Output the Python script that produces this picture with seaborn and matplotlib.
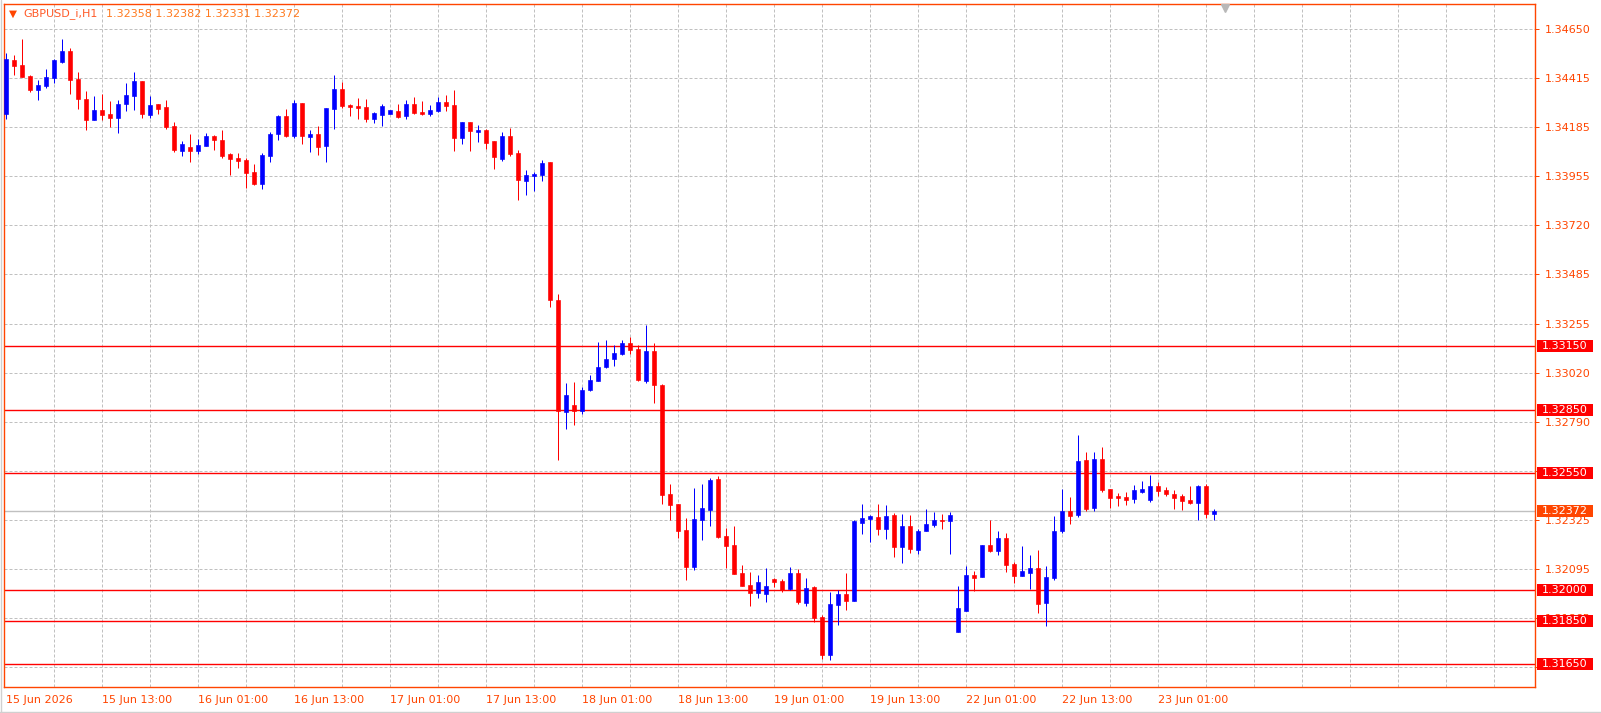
import matplotlib
matplotlib.use("Agg")
import matplotlib.pyplot as plt
import matplotlib.transforms as mtransforms
from matplotlib.patches import Rectangle
from matplotlib.lines import Line2D
import numpy as np
import pandas as pd
import seaborn as sns

# GBPUSD_i H1 bars, 15 Jun 2026 00:00 .. 23 Jun 2026 08:00
opens = [
    1.34249, 1.34504, 1.34481, 1.34429, 1.34364, 1.34381, 1.34419, 1.34495, 1.34547, 1.34414,
    1.34320, 1.34220, 1.34268, 1.34249, 1.34230, 1.34296, 1.34334, 1.34405, 1.34244, 1.34296,
    1.34282, 1.34192, 1.34074, 1.34093, 1.34074, 1.34097, 1.34145, 1.34126, 1.34060, 1.34041,
    1.34031, 1.33974, 1.33918, 1.34050, 1.34154, 1.34239, 1.34145, 1.34301, 1.34140, 1.34154,
    1.34097, 1.34272, 1.34367, 1.34291, 1.34287, 1.34282, 1.34225, 1.34244, 1.34249, 1.34263,
    1.34239, 1.34296, 1.34258, 1.34249, 1.34263, 1.34306, 1.34291, 1.34135, 1.34211, 1.34164,
    1.34173, 1.34121, 1.34036, 1.34145, 1.34064, 1.33932, 1.33956, 1.33960, 1.34022, 1.33369,
    1.32841, 1.32872, 1.32845, 1.32943, 1.32987, 1.33052, 1.33090, 1.33114, 1.33166, 1.33137,
    1.32986, 1.33128, 1.32967, 1.32451, 1.32404, 1.32281, 1.32106, 1.32328, 1.32376, 1.32522,
    1.32253, 1.32210, 1.32078, 1.32021, 1.31983, 1.31978, 1.32049, 1.32040, 1.32002, 1.32078,
    1.31936, 1.32011, 1.31870, 1.31690, 1.31926, 1.31978, 1.31945, 1.32314, 1.32333, 1.32343,
    1.32286, 1.32352, 1.32201, 1.32300, 1.32186, 1.32276, 1.32305, 1.32328, 1.32324, 1.31800,
    1.31898, 1.32068, 1.32059, 1.32210, 1.32182, 1.32243, 1.32120, 1.32063, 1.32078, 1.32101,
    1.31936, 1.32054, 1.32276, 1.32371, 1.32352, 1.32612, 1.32385, 1.32617, 1.32475, 1.32442,
    1.32437, 1.32428, 1.32461, 1.32423, 1.32490, 1.32470, 1.32451, 1.32442, 1.32423, 1.32409,
    1.32490, 1.32358,
]
highs = [
    1.34536, 1.34528, 1.34604, 1.34433, 1.34410, 1.34462, 1.34510, 1.34604, 1.34560, 1.34447,
    1.34358, 1.34334, 1.34343, 1.34310, 1.34315, 1.34395, 1.34447, 1.34405, 1.34334, 1.34296,
    1.34315, 1.34211, 1.34121, 1.34154, 1.34131, 1.34159, 1.34149, 1.34173, 1.34064, 1.34064,
    1.34041, 1.34012, 1.34064, 1.34164, 1.34244, 1.34272, 1.34315, 1.34301, 1.34173, 1.34192,
    1.34277, 1.34433, 1.34400, 1.34296, 1.34325, 1.34320, 1.34258, 1.34296, 1.34268, 1.34296,
    1.34315, 1.34329, 1.34310, 1.34291, 1.34329, 1.34339, 1.34362, 1.34211, 1.34211, 1.34197,
    1.34178, 1.34121, 1.34164, 1.34183, 1.34079, 1.33984, 1.33974, 1.34031, 1.34022, 1.33397,
    1.32976, 1.32981, 1.32958, 1.33014, 1.33170, 1.33180, 1.33156, 1.33180, 1.33194, 1.33156,
    1.33251, 1.33166, 1.32972, 1.32499, 1.32404, 1.32338, 1.32480, 1.32499, 1.32527, 1.32537,
    1.32291, 1.32300, 1.32116, 1.32082, 1.32068, 1.32101, 1.32054, 1.32049, 1.32106, 1.32097,
    1.32054, 1.32016, 1.31879, 1.31988, 1.31997, 1.32078, 1.32328, 1.32404, 1.32352, 1.32404,
    1.32399, 1.32362, 1.32357, 1.32352, 1.32286, 1.32381, 1.32366, 1.32357, 1.32366, 1.32016,
    1.32111, 1.32087, 1.32210, 1.32328, 1.32276, 1.32267, 1.32130, 1.32205, 1.32163, 1.32186,
    1.32111, 1.32347, 1.32475, 1.32437, 1.32730, 1.32650, 1.32650, 1.32674, 1.32475, 1.32456,
    1.32461, 1.32494, 1.32513, 1.32541, 1.32509, 1.32485, 1.32470, 1.32451, 1.32490, 1.32494,
    1.32499, 1.32382,
]
lows = [
    1.34224, 1.34433, 1.34422, 1.34353, 1.34315, 1.34372, 1.34395, 1.34489, 1.34343, 1.34272,
    1.34173, 1.34220, 1.34220, 1.34187, 1.34159, 1.34263, 1.34268, 1.34230, 1.34230, 1.34249,
    1.34178, 1.34069, 1.34050, 1.34022, 1.34060, 1.34097, 1.34079, 1.34041, 1.33960, 1.33993,
    1.33899, 1.33913, 1.33894, 1.34022, 1.34126, 1.34140, 1.34135, 1.34107, 1.34069, 1.34055,
    1.34022, 1.34178, 1.34277, 1.34239, 1.34225, 1.34211, 1.34206, 1.34192, 1.34249, 1.34230,
    1.34225, 1.34249, 1.34244, 1.34239, 1.34258, 1.34263, 1.34074, 1.34107, 1.34074, 1.34116,
    1.34083, 1.33989, 1.34027, 1.34050, 1.33842, 1.33866, 1.33885, 1.33932, 1.33337, 1.32612,
    1.32760, 1.32779, 1.32831, 1.32939, 1.32987, 1.33047, 1.33057, 1.33109, 1.33114, 1.32986,
    1.32976, 1.32882, 1.32404, 1.32328, 1.32243, 1.32045, 1.32092, 1.32234, 1.32300, 1.32243,
    1.32101, 1.32073, 1.32016, 1.31922, 1.31960, 1.31941, 1.32011, 1.31988, 1.31997, 1.31931,
    1.31922, 1.31846, 1.31671, 1.31666, 1.31832, 1.31903, 1.31945, 1.32262, 1.32224, 1.32257,
    1.32238, 1.32153, 1.32125, 1.32172, 1.32168, 1.32276, 1.32295, 1.32286, 1.32168, 1.31800,
    1.31898, 1.31993, 1.32059, 1.32178, 1.32163, 1.32082, 1.32030, 1.32063, 1.32002, 1.31889,
    1.31827, 1.32045, 1.32267, 1.32310, 1.32343, 1.32371, 1.32371, 1.32461, 1.32385, 1.32395,
    1.32399, 1.32409, 1.32456, 1.32413, 1.32442, 1.32442, 1.32381, 1.32376, 1.32404, 1.32328,
    1.32338, 1.32331,
]
closes = [
    1.34509, 1.34477, 1.34425, 1.34362, 1.34386, 1.34424, 1.34504, 1.34547, 1.34410, 1.34320,
    1.34220, 1.34268, 1.34244, 1.34230, 1.34296, 1.34339, 1.34405, 1.34249, 1.34291, 1.34272,
    1.34187, 1.34079, 1.34107, 1.34074, 1.34102, 1.34145, 1.34126, 1.34050, 1.34036, 1.34027,
    1.33970, 1.33918, 1.34055, 1.34154, 1.34239, 1.34145, 1.34301, 1.34145, 1.34154, 1.34093,
    1.34277, 1.34367, 1.34287, 1.34282, 1.34277, 1.34225, 1.34253, 1.34287, 1.34268, 1.34235,
    1.34296, 1.34253, 1.34249, 1.34268, 1.34306, 1.34287, 1.34135, 1.34211, 1.34168, 1.34173,
    1.34112, 1.34045, 1.34145, 1.34060, 1.33937, 1.33960, 1.33965, 1.34017, 1.33369, 1.32845,
    1.32920, 1.32845, 1.32943, 1.32991, 1.33052, 1.33090, 1.33118, 1.33166, 1.33133, 1.32991,
    1.33128, 1.32967, 1.32447, 1.32399, 1.32276, 1.32106, 1.32333, 1.32385, 1.32518, 1.32248,
    1.32205, 1.32073, 1.32016, 1.31983, 1.32035, 1.32016, 1.32035, 1.31997, 1.32078, 1.31941,
    1.32007, 1.31865, 1.31690, 1.31931, 1.31978, 1.31945, 1.32324, 1.32338, 1.32347, 1.32286,
    1.32347, 1.32201, 1.32300, 1.32191, 1.32276, 1.32310, 1.32328, 1.32325, 1.32352, 1.31912,
    1.32068, 1.32054, 1.32210, 1.32182, 1.32243, 1.32116, 1.32063, 1.32087, 1.32101, 1.31931,
    1.32059, 1.32276, 1.32371, 1.32347, 1.32607, 1.32381, 1.32617, 1.32470, 1.32433, 1.32433,
    1.32423, 1.32470, 1.32475, 1.32490, 1.32466, 1.32451, 1.32433, 1.32418, 1.32409, 1.32490,
    1.32357, 1.32372,
]

# time axis labels (one every 12 bars)
time_label_bars = [0, 12, 24, 36, 48, 60, 72, 84, 96, 108, 120, 132, 144]
time_labels = ["15 Jun 2026", "15 Jun 13:00", "16 Jun 01:00", "16 Jun 13:00",
               "17 Jun 01:00", "17 Jun 13:00", "18 Jun 01:00", "18 Jun 13:00",
               "19 Jun 01:00", "19 Jun 13:00", "22 Jun 01:00", "22 Jun 13:00",
               "23 Jun 01:00"]

# price scale (labels hidden under the level boxes are left blank)
price_ticks = [1.34650, 1.34418, 1.34186, 1.33954, 1.33722, 1.33490, 1.33258,
               1.33026, 1.32794, 1.32562, 1.32330, 1.32098, 1.31866, 1.31634]
price_tick_labels = ["1.34650", "1.34415", "1.34185", "1.33955", "1.33720", "1.33485",
                     "1.33255", "1.33020", "1.32790", "", "1.32325", "1.32095",
                     "1.31865", ""]

# horizontal levels drawn on the chart + current bid
levels = [1.33150, 1.32850, 1.32550, 1.32000, 1.31850, 1.31650]
bid = 1.32372
symbol = "GBPUSD_i,H1"

FG = "#ff4500"
GRID = "#c0c0c0"
PX = 0.72  # one pixel in points at 100 dpi

sns.set_theme(style="white")
plt.rcParams["font.family"] = ["DejaVu Sans"]

df = pd.DataFrame({"open": opens, "high": highs, "low": lows, "close": closes})
df["bar"] = np.arange(len(df))
df["up"] = df["close"] > df["open"]
df["color"] = np.where(df["up"], "#0000ff", "#ff0000")
df["body_lo"] = df[["open", "close"]].min(axis=1)
df["body_h"] = (df["close"] - df["open"]).abs()

W, H = 1601, 713
fig = plt.figure(figsize=(W / 100, H / 100), dpi=100)
fig.patch.set_facecolor("white")
left, right, top, bottom = 4, 1535, 4, 687
ax = fig.add_axes([left / W, (H - bottom) / H, (right - left) / W, (bottom - top) / H])
ax.set_facecolor("white")

ax.set_xlim(-0.25, 191.1)
ax.set_ylim(1.31539, 1.34769)

# grid
ax.set_yticks(price_ticks)
ax.set_yticklabels(price_tick_labels)
ax.grid(axis="y", color=GRID, lw=PX, ls=(0, (3, 2)), zorder=0)
ax.vlines(np.arange(6, 192, 6), 1.31539, 1.34769, colors=GRID, lw=PX,
          linestyles=(0, (3, 2)), zorder=0)

# level lines and bid line
for lv in levels:
    ax.axhline(lv, color="#ff0000", lw=1.0, zorder=1)
ax.axhline(bid, color=GRID, lw=1.0, zorder=1)

# candles
ax.vlines(df["bar"], df["low"], df["high"], colors=df["color"], lw=PX, zorder=3)
ax.bar(df["bar"], df["body_h"], bottom=df["body_lo"], width=0.56, color=df["color"],
       edgecolor=df["color"], linewidth=0.45, zorder=4)

# axes styling
for sp in ax.spines.values():
    sp.set_color(FG)
    sp.set_linewidth(1.0)
ax.yaxis.tick_right()
ax.tick_params(axis="y", direction="out", length=3, width=PX, color=FG,
               labelcolor=FG, labelsize=8, pad=4)
ax.set_xticks(time_label_bars)
ax.set_xticklabels(time_labels, ha="left")
ax.tick_params(axis="x", direction="out", length=4, width=PX, color=FG,
               labelcolor=FG, labelsize=8, pad=2)
ax.set_xlabel("")
ax.set_ylabel("")

# price labels for levels (boxes on the price scale)
trans = mtransforms.blended_transform_factory(ax.transAxes, ax.transData)
box_w = 56 / (right - left)
box_h = 12 * (1.34769 - 1.31539) / (bottom - top)
for lv, fc in [(v, "#ff0000") for v in levels] + [(bid, FG)]:
    ax.add_patch(Rectangle((1.001, lv - box_h / 2), box_w, box_h, transform=trans,
                           facecolor=fc, edgecolor="none", clip_on=False, zorder=10))
    ax.text(1.001 + box_w / 2, lv, f"{lv:.5f}", transform=trans, color="white",
            fontsize=8, ha="center", va="center", clip_on=False, zorder=11)

# chart shift marker
shift_trans = mtransforms.blended_transform_factory(ax.transData, ax.transAxes)
ax.plot([len(df) + 0.4], [1 - 4 / (bottom - top)], marker="v", markersize=6,
        color="#b8b8b8", transform=shift_trans, clip_on=False, zorder=12)

# title
fig.text(13 / W, 1 - 14 / H, "\u25bc", fontsize=7.5, color=FG, ha="center", va="center")
fig.text(23 / W, 1 - 14 / H, symbol, fontsize=8, color="#ff5a28", va="center")
ohlc_txt = f"{opens[-1]:.5f} {highs[-1]:.5f} {lows[-1]:.5f} {closes[-1]:.5f}"
fig.text(106 / W, 1 - 14 / H, ohlc_txt, fontsize=8, color="#ff7a1e", va="center")

# window frame
fig.add_artist(Line2D([0, 1], [1 - 711.5 / H] * 2, color="#d0d0d0", lw=1))
fig.add_artist(Line2D([0.5 / W] * 2, [0, 1], color="#d0d0d0", lw=1))

fig.savefig("out.png", dpi=100, facecolor="white")
